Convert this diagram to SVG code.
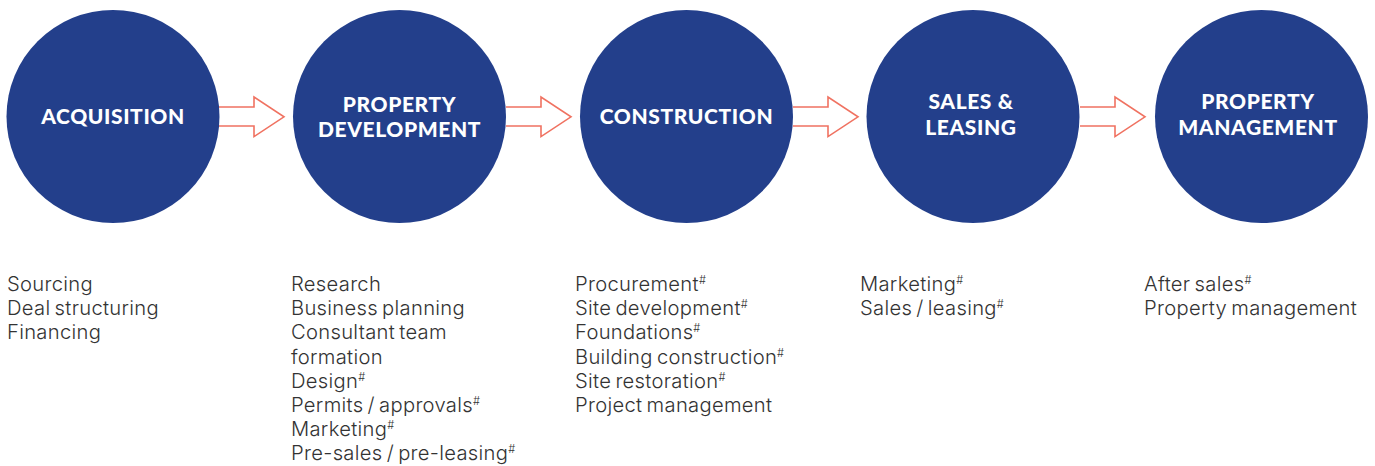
<svg xmlns="http://www.w3.org/2000/svg" width="1375" height="466" viewBox="0 0 1375 466">
  <style>
    .stage { fill: #233f8b; }
    .title { font-family: Lato, "Liberation Sans", sans-serif; font-weight: 900; font-size: 21px; fill: #ffffff; text-anchor: middle; letter-spacing: 0.6px; }
    .item { font-family: Inter, "Liberation Sans", sans-serif; font-weight: 300; font-size: 20.2px; fill: #333333; word-spacing: -1.8px; letter-spacing: 0.3px; }
    .sup { font-size: 11px; letter-spacing: 0; }
    .flow { fill: #ffffff; stroke: #f07261; stroke-width: 1.6; stroke-linejoin: miter; }
  </style>

  <!-- hollow block arrows between stages -->
  <g id="connectors">
    <path class="flow" d="M219,107 H254 V97 L284,116.8 L254,136.6 V126 H219"/>
    <path class="flow" d="M506,107 H541 V97 L571,116.8 L541,136.6 V126 H506"/>
    <path class="flow" d="M793,107 H828 V97 L858,116.8 L828,136.6 V126 H793"/>
    <path class="flow" d="M1080,107 H1115 V97 L1145,116.8 L1115,136.6 V126 H1080"/>
  </g>

  <g id="acquisition">
    <circle class="stage" cx="113" cy="116.5" r="106.5"/>
    <text class="title" x="113" y="124">ACQUISITION</text>
    <text class="item" x="7">
      <tspan x="7" y="291">Sourcing</tspan>
      <tspan x="7" y="315.2">Deal structuring</tspan>
      <tspan x="7" y="339.4">Financing</tspan>
    </text>
  </g>

  <g id="property-development">
    <circle class="stage" cx="399.5" cy="116.5" r="106.5"/>
    <text class="title" x="399.5" y="112">PROPERTY</text>
    <text class="title" x="399.5" y="137">DEVELOPMENT</text>
    <text class="item">
      <tspan x="291" y="291">Research</tspan>
      <tspan x="291" y="315.2">Business planning</tspan>
      <tspan x="291" y="339.4">Consultant team</tspan>
      <tspan x="291" y="363.6">formation</tspan>
      <tspan x="291" y="387.8">Design<tspan class="sup" dy="-7">#</tspan></tspan>
      <tspan x="291" y="412">Permits / approvals<tspan class="sup" dy="-7">#</tspan></tspan>
      <tspan x="291" y="436.2">Marketing<tspan class="sup" dy="-7">#</tspan></tspan>
      <tspan x="291" y="460.4">Pre-sales / pre-leasing<tspan class="sup" dy="-7">#</tspan></tspan>
    </text>
  </g>

  <g id="construction">
    <circle class="stage" cx="686.5" cy="116.5" r="106.5"/>
    <text class="title" x="686.5" y="123.5">CONSTRUCTION</text>
    <text class="item">
      <tspan x="575" y="291">Procurement<tspan class="sup" dy="-7">#</tspan></tspan>
      <tspan x="575" y="315.2">Site development<tspan class="sup" dy="-7">#</tspan></tspan>
      <tspan x="575" y="339.4">Foundations<tspan class="sup" dy="-7">#</tspan></tspan>
      <tspan x="575" y="363.6">Building construction<tspan class="sup" dy="-7">#</tspan></tspan>
      <tspan x="575" y="387.8">Site restoration<tspan class="sup" dy="-7">#</tspan></tspan>
      <tspan x="575" y="412">Project management</tspan>
    </text>
  </g>

  <g id="sales-leasing">
    <circle class="stage" cx="973" cy="116.5" r="106.5"/>
    <text class="title" x="971" y="109">SALES &amp;</text>
    <text class="title" x="971" y="135">LEASING</text>
    <text class="item">
      <tspan x="860" y="291">Marketing<tspan class="sup" dy="-7">#</tspan></tspan>
      <tspan x="860" y="315.2">Sales / leasing<tspan class="sup" dy="-7">#</tspan></tspan>
    </text>
  </g>

  <g id="property-management">
    <circle class="stage" cx="1261.5" cy="116.5" r="106.5"/>
    <text class="title" x="1258" y="109">PROPERTY</text>
    <text class="title" x="1258" y="135">MANAGEMENT</text>
    <text class="item">
      <tspan x="1144" y="291">After sales<tspan class="sup" dy="-7">#</tspan></tspan>
      <tspan x="1144" y="315.2">Property management</tspan>
    </text>
  </g>
</svg>
